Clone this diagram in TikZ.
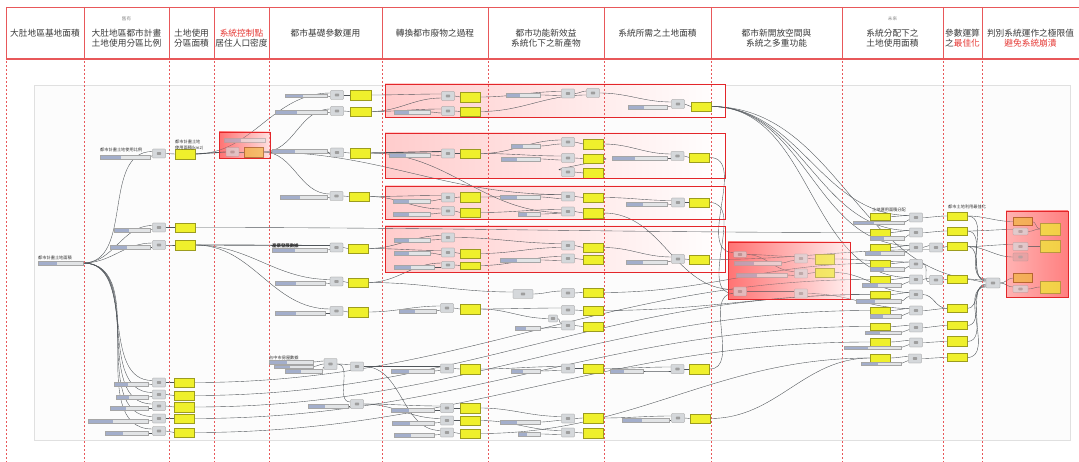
\documentclass[tikz,border=0pt]{standalone}
\usepackage{fontspec}
\newfontfamily\cjk{Noto Sans CJK TC}
\usetikzlibrary{calc}
\definecolor{hred}{HTML}{E53935}
\definecolor{hline}{HTML}{E8585A}
\definecolor{htext}{HTML}{3A3A3A}
\definecolor{slblue}{HTML}{A3AECB}
\definecolor{sltrack}{HTML}{E2E4E6}
\definecolor{cpfill}{HTML}{D5D8DB}
\definecolor{pyellow}{HTML}{EFF02C}
\definecolor{pborder}{HTML}{9C9C1E}
\definecolor{porange}{HTML}{F0B43A}
\definecolor{wirec}{HTML}{50555A}
\definecolor{boxred}{HTML}{E3262A}
\pgfdeclarelayer{bg}\pgfdeclarelayer{wires}\pgfsetlayers{bg,wires,main}
\newcommand\wireU[2]{\draw[wire] (#1.east) to[out=0,in=180] ([yshift=2pt]#2.west);}
\newcommand\wireL[2]{\draw[wire] (#1.east) to[out=0,in=180] ([yshift=-2pt]#2.west);}
\newcommand\wireW[2]{\draw[wire] (#1.east) to[out=0,in=180] (#2.west);}
\newcommand\wireS[3]{\draw[wire] (#1.east) to[out=0,in=180] ([yshift=#3]#2.west);}
\begin{document}
\begin{tikzpicture}[x=1pt,y=-1pt,
  hd/.style={font=\cjk\fontsize{8.7}{10.4}\selectfont, text=htext, align=center, inner sep=0pt},
  hsmall/.style={font=\cjk\fontsize{4.6}{5}\selectfont, text=black!45, inner sep=0pt},
  lbl/.style={font=\cjk\fontsize{4.2}{6.3}\selectfont, text=black!80, inner sep=0pt, align=left},
  sl/.style={rectangle, draw=black!35, fill=sltrack, minimum height=3.6pt, inner sep=0pt, line width=0.2pt,
    path picture={\fill[slblue] (path picture bounding box.south west) rectangle ($(path picture bounding box.north west)!0.42!(path picture bounding box.north east)$);}},
  cp/.style={rectangle, rounded corners=0.8pt, draw=black!45, fill=cpfill, minimum width=13pt, minimum height=9pt, inner sep=0pt, line width=0.25pt,
    path picture={\fill[black!38] ([xshift=-2.2pt,yshift=-1.4pt]path picture bounding box.center) rectangle ([xshift=2.2pt,yshift=1.4pt]path picture bounding box.center);}},
  pn/.style={rectangle, draw=pborder, fill=pyellow, minimum width=20pt, minimum height=9.5pt, inner sep=0pt, line width=0.3pt},
  op/.style={pn, fill=porange, draw=orange!60!black},
  wire/.style={draw=wirec, line width=0.38pt},
  fat/.style={draw=wirec, line width=0.9pt},
  boxline/.style={draw=boxred, line width=0.9pt},
  hl/.style={draw=hline, line width=0.5pt},
]
\useasboundingbox (0,0) rectangle (1079,462);

% ---------------- header ----------------
\draw[hl] (6,7) -- (1079,7);
\draw[hl, line width=1.1pt] (6,59) -- (1079,59);
\foreach \x in {6,84,169,214,269,382,488,604,711,842,943,982} {
  \draw[hl] (\x,7) -- (\x,59);
  \draw[hl, line width=0.45pt, dash pattern=on 2pt off 2pt] (\x,61) -- (\x,462);
}
\node[hd] (h1) at (45,33) {大肚地區基地面積};
\node[hsmall] (h2s) at (126.5,19) {舊有};
\node[hd] (h2) at (126.5,38) {大肚地區都市計畫\\土地使用分區比例};
\node[hd] (h3) at (191.5,38) {土地使用\\分區面積};
\node[hd] (h4) at (241.5,38) {{\color{hred}系統控制點}\\居住人口密度};
\node[hd] (h5) at (325.5,33) {都市基礎參數運用};
\node[hd] (h6) at (435,33) {轉換都市廢物之過程};
\node[hd] (h7) at (546,38) {都市功能新效益\\系統化下之新產物};
\node[hd] (h8) at (657.5,33) {系統所需之土地面積};
\node[hd] (h9) at (776.5,38) {都市新開放空間與\\系統之多重功能};
\node[hsmall] (h10s) at (892.5,19) {未來};
\node[hd] (h10) at (892.5,38) {系統分配下之\\土地使用面積};
\node[hd] (h11) at (962.5,38) {參數運算\\之{\color{hred}最佳化}};
\node[hd] (h12) at (1030.5,38) {判別系統運作之極限值\\{\color{hred}避免系統崩潰}};

% ---------------- canvas and group boxes (background) ----------------
\begin{pgfonlayer}{bg}
\draw[draw=black!12, fill=black!1] (34,85) rectangle (1070,440);
\shade[left color=red!20, right color=white] (385,84) rectangle (725,117);
\shade[left color=red!20, right color=white] (385,133) rectangle (725,178);
\shade[left color=red!20, right color=white] (385,186) rectangle (725,219);
\shade[left color=red!20, right color=white] (385,226) rectangle (725,272);
\shade[left color=red!55, right color=red!12] (219,132) rectangle (270,158);
\shade[left color=red!55, right color=red!6] (728,242) rectangle (850,299);
\shade[left color=red!30, middle color=red!6, right color=red!50] (1006,211) rectangle (1068,297);
\end{pgfonlayer}

% ---------------- nodes: column 84-169 ----------------
\node[lbl, anchor=south west] (g1l) at (100,152.5) {都市計畫土地使用比例};
\node[sl, minimum width=50pt] (g1s) at (125,157) {};
\node[cp] (g1c) at (159,153.5) {};
\node[pn] (g1p) at (185,154) {};
\node[lbl, anchor=south west] (g1pl) at (175,150.5) {都市計畫土地\\使用面積(km2)};
\node[sl, minimum width=36pt] (g2s) at (132,230) {};
\node[cp] (g2c) at (159,227.5) {};
\node[pn] (g2p) at (185,227.5) {};
\node[sl, minimum width=40pt] (g3s) at (130,247) {};
\node[cp] (g3c) at (159,245) {};
\node[pn] (g3p) at (185,245) {};
\node[lbl, anchor=south west] (g0l) at (38,260) {都市計畫土地面積};
\node[sl, minimum width=45pt] (g0s) at (60.5,263) {};
\node[sl, minimum width=34pt] (l1s) at (131,384) {};
\node[cp] (l1c) at (159,382.5) {};
\node[pn] (l1p) at (184.5,382.5) {};
\node[sl, minimum width=32pt] (l2s) at (132,397) {};
\node[cp] (l2c) at (159,394.5) {};
\node[pn] (l2p) at (184.5,395.5) {};
\node[sl, minimum width=38pt] (l3s) at (129,408) {};
\node[cp] (l3c) at (159,406) {};
\node[pn] (l3p) at (184.5,407) {};
\node[sl, minimum width=60pt] (l4s) at (118,421) {};
\node[cp] (l4c) at (159,418.5) {};
\node[pn] (l4p) at (184.5,418.5) {};
\node[sl, minimum width=43pt] (l5s) at (126.5,433) {};
\node[cp] (l5c) at (159,431) {};
\node[pn] (l5p) at (184.5,432.5) {};

% red control box
\node[sl, minimum width=41pt] (rs) at (244.5,140) {};
\node[cp] (rc) at (232.5,152) {};
\node[op, minimum width=19pt] (rp) at (253.5,152) {};

% ---------------- column 269-382 ----------------
\node[sl, minimum width=42pt] (a1s) at (306,95.7) {};
\node[cp] (a1c) at (337,95) {};
\node[pn, minimum width=21pt] (a1p) at (360.5,95) {};
\node[sl, minimum width=52pt] (a2s) at (301,112) {};
\node[cp] (a2c) at (337,111) {};
\node[pn, minimum width=21pt] (a2p) at (360.5,111.5) {};
\node[sl, minimum width=55pt] (a3s) at (299.5,151) {};
\node[cp] (a3c) at (337,152.5) {};
\node[pn] (a3p) at (360,153) {};
\node[sl, minimum width=47pt] (a4s) at (303.5,197) {};
\node[cp] (a4c) at (336.5,196) {};
\node[pn] (a4p) at (359,196.5) {};
\node[lbl, anchor=south west, font=\cjk\bfseries\fontsize{4.4}{5}\selectfont] (a5l) at (272,248) {產業發展數據};
\node[sl, minimum width=55pt] (a5s) at (299.5,250) {};
\node[cp] (a5c) at (336.5,247.5) {};
\node[pn] (a5p) at (358,248.5) {};
\node[sl, minimum width=50pt] (a6s) at (300,283) {};
\node[cp] (a6c) at (336.5,281.5) {};
\node[pn] (a6p) at (358,282.5) {};
\node[sl, minimum width=50pt] (a7s) at (300,313) {};
\node[cp] (a7c) at (336.5,311) {};
\node[pn] (a7p) at (358,312) {};
\node[lbl, anchor=south west] (a8l) at (269,360) {台中市房屋數據};
\node[sl, minimum width=44pt] (s81) at (291,362) {};
\node[sl, minimum width=39pt] (s82) at (293.5,366.5) {};
\node[sl, minimum width=37pt] (s83) at (303.5,371) {};
\node[cp, minimum height=11pt] (c81) at (330.5,364) {};
\node[cp] (c82) at (357,366.5) {};
\node[sl, minimum width=40pt] (a9s) at (328,406) {};
\node[cp] (a9c) at (357,404) {};

% ---------------- box A ----------------
\node[cp] (b1c) at (448,96) {};
\node[pn] (b1p) at (470.5,97) {};
\node[sl, minimum width=36pt] (b2s) at (412,112) {};
\node[cp] (b2c) at (448,111) {};
\node[pn] (b2p) at (470.5,111.5) {};
\node[sl, minimum width=34pt] (bAs) at (523,95) {};
\node[cp] (bA1) at (568,93.5) {};
\node[cp] (bA2) at (593,93) {};
\node[sl, minimum width=39pt] (bA3s) at (647.5,107) {};
\node[cp] (bA3c) at (678,104) {};
\node[pn] (bA3p) at (701,106.5) {};
% box B
\node[sl, minimum width=41pt] (b3s) at (409.5,155) {};
\node[cp] (b3c) at (448,153.5) {};
\node[pn] (b3p) at (470.5,153.5) {};
\node[sl, minimum width=29pt] (bBs1) at (525.5,146) {};
\node[sl, minimum width=39pt] (bBs2) at (520.5,159) {};
\node[cp] (bB1c) at (568,142) {};
\node[pn] (bB1p) at (593.5,144) {};
\node[cp] (bB2c) at (568,158) {};
\node[pn] (bB2p) at (593.5,158.5) {};
\node[cp] (bB3c) at (568,172) {};
\node[pn] (bB3p) at (593.5,173) {};
\node[sl, minimum width=55pt] (bB4s) at (639.5,158) {};
\node[cp] (bB4c) at (677.5,156) {};
\node[pn] (bB4p) at (699.5,157.5) {};
% box C
\node[sl, minimum width=37pt] (b4s) at (411.5,201) {};
\node[cp] (b4c) at (448,197.5) {};
\node[pn] (b4p) at (470.5,197) {};
\node[sl, minimum width=37pt] (b5s) at (411.5,214) {};
\node[cp] (b5c) at (448,211) {};
\node[pn] (b5p) at (470.5,212.5) {};
\node[sl, minimum width=40pt] (bCs1) at (520,197) {};
\node[sl, minimum width=22pt] (bCs2) at (529,214) {};
\node[cp] (bC1c) at (568,196.5) {};
\node[pn] (bC1p) at (593.5,197.5) {};
\node[cp] (bC2c) at (568,211.5) {};
\node[pn] (bC2p) at (593.5,213) {};
\node[sl, minimum width=41pt] (bC3s) at (646.5,204) {};
\node[cp] (bC3c) at (678,202.5) {};
\node[pn] (bC3p) at (699.5,202.5) {};
% box D
\node[sl, minimum width=36pt] (d1s) at (412,240) {};
\node[cp] (d1c) at (448,237.5) {};
\node[sl, minimum width=36pt] (d2s) at (412,253) {};
\node[cp] (d2c) at (448,252.5) {};
\node[pn] (d2p) at (470.5,253.5) {};
\node[sl, minimum width=40pt] (d3s) at (414,267) {};
\node[cp, minimum height=7pt] (d3c) at (448,265) {};
\node[pn, minimum height=7.5pt] (d3p) at (470.5,265.5) {};
\node[sl, minimum width=40pt] (bDs1) at (520,260) {};
\node[cp] (bD1c) at (568,245.5) {};
\node[pn] (bD1p) at (593.5,247.5) {};
\node[cp] (bD2c) at (568,258.5) {};
\node[pn] (bD2p) at (593.5,259.5) {};
\node[sl, minimum width=41pt] (bD3s) at (646.5,262) {};
\node[cp] (bD3c) at (678,259) {};
\node[pn] (bD3p) at (699.5,259.5) {};

% ---------------- box E ----------------
\node[cp, minimum height=6pt] (e1c) at (740,254.5) {};
\node[sl, minimum width=47pt] (e1s) at (757.5,263) {};
\node[sl, minimum width=51pt] (e2s) at (761.5,275) {};
\node[cp] (e2c) at (801,258.5) {};
\node[pn, minimum width=19pt] (e2p) at (824.5,259) {};
\node[cp] (e3c) at (801,273.5) {};
\node[pn, minimum width=19pt] (e3p) at (824.5,272.5) {};
\node[cp] (e4c) at (740,291.5) {};
\node[cp] (e5c) at (801,293.5) {};

% ---------------- lower columns 382-604 ----------------
\node[sl, minimum width=37pt] (c1s) at (417.5,311) {};
\node[cp] (c1c) at (447,308) {};
\node[pn] (c1p) at (470,309) {};
\node[sl, minimum width=43pt] (c2s) at (412.5,371) {};
\node[cp] (c2c) at (447,368.5) {};
\node[pn] (c2p) at (470,369) {};
\node[sl, minimum width=43pt] (c3s) at (412.5,410) {};
\node[cp] (c3c) at (447,408) {};
\node[pn] (c3p) at (470,408) {};
\node[sl, minimum width=42pt] (c4s) at (413,423) {};
\node[cp] (c4c) at (447,420.5) {};
\node[pn] (c4p) at (470,420.5) {};
\node[sl, minimum width=40pt] (c5s) at (414,435) {};
\node[cp] (c5c) at (447,432.5) {};
\node[pn] (c5p) at (470,433.5) {};
\node[sl, minimum width=25pt] (x1s) at (527.5,328) {};
\node[sl, minimum width=29pt] (x2s) at (525.5,371) {};
\node[sl, minimum width=40pt] (x3s) at (520,422) {};
\node[sl, minimum width=22pt] (x4s) at (529,434) {};
\node[cp, minimum width=20pt] (xc) at (523,294) {};
\node[cp] (f1c) at (568,293) {};
\node[pn] (f1p) at (593,292.5) {};
\node[cp] (f2c) at (568,310) {};
\node[pn] (f2p) at (593,310.5) {};
\node[cp, minimum width=9pt, minimum height=7pt] (f3a) at (553,318.5) {};
\node[cp] (f3c) at (568,325.5) {};
\node[pn] (f3p) at (593,326.5) {};
\node[cp] (f4c) at (568,368.5) {};
\node[pn] (f4p) at (593,368.5) {};
\node[sl, minimum width=33pt] (f4s) at (626.5,371) {};
\node[cp] (f4c2) at (677.5,369) {};
\node[pn] (f4p2) at (699.5,369) {};
\node[cp] (f5c) at (568,418.5) {};
\node[pn] (f5p) at (593,418) {};
\node[sl, minimum width=47pt] (f5s) at (645.5,420) {};
\node[cp] (f5c2) at (678,418) {};
\node[pn] (f5p2) at (700,418.5) {};
\node[cp] (f6c) at (568,432.5) {};
\node[pn] (f6p) at (593,433) {};

% ---------------- column 842-943 ----------------
\node[lbl, anchor=south west] (rl) at (872,212.5) {土地運用面積分配};
\node[pn, minimum height=7.5pt] (r1p) at (880,216.5) {};
\node[sl, minimum width=51pt] (r1s) at (878.5,222.5) {};
\node[cp] (r1c) at (916,217.5) {};
\node[pn, minimum height=7.5pt] (r2p) at (880,232.5) {};
\node[sl, minimum width=34pt] (r2s) at (887,238) {};
\node[cp] (r2c) at (916,232.5) {};
\node[pn, minimum height=7.5pt] (r3p) at (880,247.5) {};
\node[sl, minimum width=39pt] (r3s) at (884.5,253) {};
\node[cp] (r3c) at (916,247.5) {};
\node[cp] (r3c2) at (936,247.5) {};
\node[pn, minimum height=7.5pt] (r4p) at (880.5,263.5) {};
\node[sl, minimum width=34pt] (r4s) at (887,269) {};
\node[cp] (r4c) at (916,264) {};
\node[pn, minimum height=7.5pt] (r5p) at (880.5,279.5) {};
\node[sl, minimum width=39pt] (r5s) at (881.5,285) {};
\node[cp] (r5c) at (916,279.5) {};
\node[cp] (r5c2) at (936,280) {};
\node[pn, minimum height=7.5pt] (r6p) at (880.5,294.5) {};
\node[sl, minimum width=45pt] (r6s) at (878.5,301) {};
\node[cp] (r6c) at (916,294.5) {};
\node[pn, minimum height=7.5pt] (r7p) at (880.5,310.5) {};
\node[sl, minimum width=31pt] (r7s) at (885.5,316) {};
\node[cp] (r7c) at (916,310.5) {};
\node[pn, minimum height=7.5pt] (r8p) at (880.5,326.5) {};
\node[sl, minimum width=36pt] (r8s) at (883,332.5) {};
\node[cp] (r8c) at (916,327.5) {};
\node[pn, minimum height=7.5pt] (r9p) at (880.5,342) {};
\node[sl, minimum width=57pt] (r9s) at (872.5,347.5) {};
\node[cp] (r9c) at (916,342.5) {};
\node[pn, minimum height=7.5pt] (r10p) at (880.5,358) {};
\node[sl, minimum width=40pt] (r10s) at (881,363.5) {};
\node[cp] (r10c) at (915,358.5) {};

% ---------------- column 943-982 ----------------
\node[lbl, anchor=south west] (pl) at (948,209.5) {都市土地利用最佳化};
\node[pn, minimum height=8pt] (p1) at (957,216) {};
\node[pn, minimum height=8pt] (p2) at (957,231) {};
\node[pn, minimum height=8pt] (p3) at (957,246.5) {};
\node[pn, minimum height=8pt] (p4) at (957,279.5) {};
\node[pn, minimum height=8pt] (p5) at (957,308.5) {};
\node[pn, minimum height=8pt] (p6) at (957,325.5) {};
\node[pn, minimum height=10pt] (p7) at (957,341.5) {};
\node[pn, minimum height=8pt] (p8) at (957,357.5) {};
\node[cp, minimum width=14pt, minimum height=10pt] (m) at (993,283) {};

% ---------------- box F ----------------
\node[op, minimum width=19pt, minimum height=8pt] (op1) at (1022.5,221.5) {};
\node[cp, minimum width=15pt, minimum height=7pt] (fc1) at (1020.5,231.5) {};
\node[pn, minimum height=12pt] (fp1) at (1050,229) {};
\node[cp, minimum width=15pt, minimum height=8pt] (fc2) at (1020.5,246.5) {};
\node[pn, minimum height=12pt] (fp2) at (1050,246.5) {};
\node[cp, minimum width=15pt, minimum height=8pt, fill=red!25!cpfill] (fc3) at (1020.5,257) {};
\node[op, minimum width=19pt, minimum height=9pt] (op2) at (1023,278) {};
\node[cp, minimum width=15pt, minimum height=7pt] (fc4) at (1020.5,289) {};
\node[pn, minimum height=12pt] (fp3) at (1050,287) {};

% ---------------- wires ----------------
\begin{pgfonlayer}{wires}
% left fan
\wireU{g0s}{g1c}\wireU{g0s}{g2c}\wireU{g0s}{g3c}
\wireU{g0s}{l1c}\wireU{g0s}{l2c}\wireU{g0s}{l3c}\wireU{g0s}{l4c}\wireU{g0s}{l5c}
\wireL{g1s}{g1c}\wireL{g2s}{g2c}\wireL{g3s}{g3c}
\wireL{l1s}{l1c}\wireL{l2s}{l2c}\wireL{l3s}{l3c}\wireL{l4s}{l4c}\wireL{l5s}{l5c}
\wireW{g1c}{g1p}\wireW{g2c}{g2p}\wireW{g3c}{g3p}
\wireW{l1c}{l1p}\wireW{l2c}{l2p}\wireW{l3c}{l3p}\wireW{l4c}{l4p}\wireW{l5c}{l5p}
% control box
\draw[fat] (g1p.east) -- (rc.west);
\wireW{rc}{rp}
\wireU{g1p}{a1c}\wireU{rp}{a2c}\draw[fat] (rp.east) -- ([yshift=-0.5pt]a3c.west);
\wireU{rp}{a4c}
\wireL{a1s}{a1c}\wireL{a2s}{a2c}\wireL{a3s}{a3c}\wireL{a4s}{a4c}\wireL{a5s}{a5c}\wireL{a6s}{a6c}\wireL{a7s}{a7c}
\draw[fat] (g3p.east) to[out=0,in=180] ([yshift=2pt]a5c.west);
\wireU{g3p}{a6c}\wireU{g3p}{a7c}
\wireW{a1c}{a1p}\wireW{a2c}{a2p}\wireW{a3c}{a3p}\wireW{a4c}{a4p}\wireW{a5c}{a5p}\wireW{a6c}{a6p}\wireW{a7c}{a7p}
\draw[wire] (g2p.east) to[out=0,in=180] (r2p.west);
\draw[wire] (s81.east) to[out=0,in=180] ([yshift=3pt]c81.west);
\draw[wire] (s82.east) to[out=0,in=180] (c81.west);
\draw[wire] (s83.east) to[out=0,in=180] ([yshift=-3pt]c81.west);
\wireU{c81}{c82}\wireU{c81}{a9c}\wireL{a9s}{a9c}
% long wires to the allocation column
\draw[wire] (rp.east) to[out=0,in=180] ([yshift=2pt]bC1c.west);
\draw[wire] (a3p.east) to[out=0,in=180] ([yshift=-1pt]bC2c.west);
\wireW{l1p}{r5p}\wireW{l2p}{r6p}\wireW{l3p}{r7p}\wireW{l4p}{r8p}\wireW{l5p}{r9p}
% box A
\wireU{a1p}{b1c}\wireL{a2p}{b1c}\wireU{a2p}{b2c}\wireL{b2s}{b2c}
\wireW{b1c}{b1p}\wireW{b2c}{b2p}
\wireU{b1p}{bA1}\wireL{bAs}{bA1}\wireU{bA1}{bA2}\wireL{b2p}{bA2}
\wireU{bA2}{bA3c}\wireL{bA3s}{bA3c}\wireW{bA3c}{bA3p}
% box B
\draw[fat] (a3p.east) -- ([yshift=2pt]b3c.west);
\wireL{b3s}{b3c}\wireW{b3c}{b3p}
\wireU{b3p}{bB1c}\wireL{bBs1}{bB1c}\wireU{b3p}{bB2c}\wireL{bBs2}{bB2c}\wireU{bB2p}{bB3c}
\wireW{bB1c}{bB1p}\wireW{bB2c}{bB2p}\wireW{bB3c}{bB3p}
\wireU{bB1p}{bB4c}\wireL{bB4s}{bB4c}\wireW{bB4c}{bB4p}
% box C
\wireU{a4p}{b4c}\wireL{b4s}{b4c}\wireU{a4p}{b5c}\wireL{b5s}{b5c}
\wireW{b4c}{b4p}\wireW{b5c}{b5p}
\wireU{b4p}{bC1c}\wireL{bCs1}{bC1c}\wireU{b5p}{bC2c}\wireL{bCs2}{bC2c}
\wireW{bC1c}{bC1p}\wireW{bC2c}{bC2p}
\wireU{bC1p}{bC3c}\wireL{bC3s}{bC3c}\wireW{bC3c}{bC3p}
% box D
\wireU{a5p}{d1c}\wireL{d1s}{d1c}\wireU{a5p}{d2c}\wireL{d2s}{d2c}\wireW{d2c}{d2p}
\wireU{a6p}{d3c}\wireL{d3s}{d3c}\wireW{d3c}{d3p}
\wireU{d1c}{bD1c}\wireL{d2p}{bD1c}\wireU{d3p}{bD2c}\wireL{bDs1}{bD2c}
\wireW{bD1c}{bD1p}\wireW{bD2c}{bD2p}
\wireU{bD1p}{bD3c}\wireL{bD3s}{bD3c}\wireW{bD3c}{bD3p}
% box E
\wireU{bB4p}{e1c}\wireU{bC2p}{e4c}\wireL{bC3p}{e4c}
\wireU{e1c}{e2c}\wireL{e1s}{e2c}\wireU{e1c}{e3c}\wireL{e2s}{e3c}
\wireW{e2c}{e2p}\wireW{e3c}{e3p}\wireU{e4c}{e5c}
\wireU{e2p}{r4c}\wireU{e3p}{r6c}\wireU{e5c}{r7c}
\wireL{bD3p}{r3c2}
% lower part
\wireU{a7p}{c1c}\wireL{c1s}{c1c}
\wireU{c82}{c2c}\wireL{c2s}{c2c}
\wireU{a9c}{c3c}\wireL{c3s}{c3c}
\wireU{a9c}{c4c}\wireL{c4s}{c4c}
\wireU{c82}{c5c}\wireL{c5s}{c5c}
\wireW{c1c}{c1p}\wireW{c2c}{c2p}\wireW{c3c}{c3p}\wireW{c4c}{c4p}\wireW{c5c}{c5p}
\wireU{a6p}{xc}\wireU{xc}{f1c}\wireW{f1c}{f1p}
\wireU{c1p}{f2c}\wireW{f2c}{f2p}
\wireW{c1p}{f3a}\wireU{f3a}{f3c}\wireL{x1s}{f3c}\wireW{f3c}{f3p}
\wireU{c2p}{f4c}\wireL{x2s}{f4c}\wireW{f4c}{f4p}
\wireU{f4p}{f4c2}\wireL{f4s}{f4c2}\wireW{f4c2}{f4p2}
\wireU{c3p}{f5c}\wireL{x3s}{f5c}\wireW{f5c}{f5p}
\wireU{f5p}{f5c2}\wireL{f5s}{f5c2}\wireW{f5c2}{f5p2}
\wireU{c4p}{f6c}\wireL{x4s}{f6c}\wireW{f6c}{f6p}
\wireL{f4p2}{e4c}
\wireW{f1p}{r4p}\wireW{f2p}{r6p}\wireW{f5p2}{r10p}\wireW{c5p}{r10p}
% allocation column
\wireU{bA3p}{r1c}\wireU{bA3p}{r2c}\wireU{bA3p}{r3c}\wireU{bA3p}{r5c}
\wireS{bA3p}{m}{3pt}
\wireU{r1p}{r1c}\wireL{r1s}{r1c}\wireU{r2p}{r2c}\wireL{r2s}{r2c}
\wireU{r3p}{r3c}\wireL{r3s}{r3c}\wireU{r3c}{r3c2}
\wireU{r4p}{r4c}\wireL{r4s}{r4c}
\wireU{r5p}{r5c}\wireL{r5s}{r5c}\wireU{r5c}{r5c2}\wireL{r4c}{r5c2}
\wireU{r6p}{r6c}\wireL{r6s}{r6c}\wireU{r7p}{r7c}\wireL{r7s}{r7c}
\wireU{r8p}{r8c}\wireL{r8s}{r8c}\wireU{r9p}{r9c}\wireL{r9s}{r9c}
\wireU{r10p}{r10c}\wireL{r10s}{r10c}
\wireW{r1c}{p1}\wireW{r2c}{p2}\wireW{r3c2}{p3}\wireW{r5c2}{p4}
\wireW{r6c}{p5}\wireW{r7c}{p5}\wireW{r8c}{p6}\wireW{r9c}{p7}\wireW{r10c}{p8}
% optimisation -> limit check
\wireS{p1}{m}{4pt}\wireS{p2}{m}{3pt}\wireS{p3}{m}{2pt}\wireS{p4}{m}{1pt}
\wireS{p5}{m}{-1pt}\wireS{p6}{m}{-2pt}\wireS{p7}{m}{-3pt}\wireS{p8}{m}{-4pt}
\wireW{p1}{op1}\wireU{p2}{fc1}\wireU{p3}{fc2}\wireW{p3}{fc3}
\wireW{m}{op2}\wireU{m}{fc4}
\wireW{fc1}{fp1}\wireW{fc2}{fp2}\wireW{fc4}{fp3}\wireW{op1}{fp1}
\end{pgfonlayer}

% overlays tinting nodes inside the red boxes
\shade[left color=red!55, right color=red!12, opacity=0.35] (219,132) rectangle (270,158);
\shade[left color=red!55, right color=red!6, opacity=0.35] (728,242) rectangle (850,299);
\shade[left color=red!30, middle color=red!6, right color=red!50, opacity=0.3] (1006,211) rectangle (1068,297);
% borders
\draw[boxline] (385,84) rectangle (725,117);
\draw[boxline] (385,133) rectangle (725,178);
\draw[boxline] (385,186) rectangle (725,219);
\draw[boxline] (385,226) rectangle (725,272);
\draw[boxline] (219,132) rectangle (270,158);
\draw[boxline] (728,242) rectangle (850,299);
\draw[boxline] (1006,211) rectangle (1068,297);
\end{tikzpicture}
\end{document}
